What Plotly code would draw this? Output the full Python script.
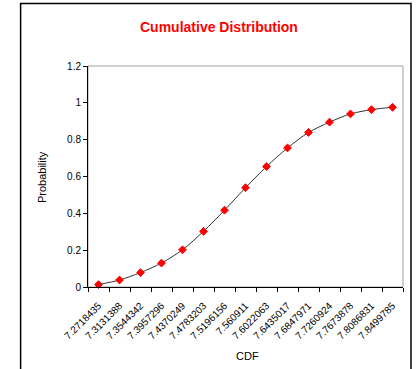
import plotly.graph_objects as go

categories = ["7.2718435", "7.3131388", "7.3544342", "7.3957296", "7.4370249",
              "7.4783203", "7.5196156", "7.560911", "7.6022063", "7.6435017",
              "7.6847971", "7.7260924", "7.7673878", "7.8086831", "7.8499785"]
probability = [0.013, 0.038, 0.078, 0.130, 0.202, 0.302, 0.417, 0.539,
               0.654, 0.755, 0.839, 0.895, 0.940, 0.963, 0.976]
y_ticks = [0, 0.2, 0.4, 0.6, 0.8, 1, 1.2]
y_tick_labels = ["0", "0.2", "0.4", "0.6", "0.8", "1", "1.2"]

W, H = 418, 369
L, R, T, B = 88, 403.5, 66, 287
pw, ph = R - L, B - T

def px(x):
    return (x - L) / pw

def py(y):
    return (B - y) / ph

font = "Liberation Sans, Arial, sans-serif"

fig = go.Figure()
fig.add_trace(go.Scatter(
    x=categories, y=probability, mode="lines+markers",
    line=dict(color="#333333", width=1, shape="spline", smoothing=0.8),
    marker=dict(symbol="diamond", size=6, color="#ff0000",
                line=dict(color="#ff0000", width=1)),
    showlegend=False, cliponaxis=False,
))

fig.update_layout(
    width=W, height=H,
    margin=dict(l=L, r=W - R, t=T, b=H - B, pad=0),
    paper_bgcolor="white", plot_bgcolor="white",
    font=dict(family=font, size=10, color="black"),
    xaxis=dict(
        type="category", range=[-0.5, 14.5], tickson="boundaries",
        ticks="outside", ticklen=4, tickcolor="black", tickwidth=1,
        showline=True, linecolor="black", linewidth=1,
        showgrid=False, zeroline=False, tickangle=-45,
        ticklabelstandoff=8,
        tickfont=dict(size=10, family=font, color="black"),
    ),
    yaxis=dict(
        range=[0, 1.2], tickvals=y_ticks, ticktext=y_tick_labels,
        ticks="outside", ticklen=4, tickcolor="black", tickwidth=1,
        showline=True, linecolor="black", linewidth=1,
        showgrid=False, zeroline=False,
        tickfont=dict(size=10, family=font, color="black"),
    ),
    shapes=[
        dict(type="rect", xref="paper", yref="paper",
             x0=px(20.5), x1=px(411.5), y0=py(375), y1=py(3.5),
             line=dict(color="black", width=1.5), layer="below"),
        dict(type="rect", xref="paper", yref="paper",
             x0=0, x1=1, y0=0, y1=1,
             line=dict(color="#a0a0a0", width=1), layer="below"),
    ],
    annotations=[
        dict(text="<b>Cumulative Distribution</b>", xref="paper", yref="paper",
             x=px(219), y=py(27.5), showarrow=False, xanchor="center", yanchor="middle",
             font=dict(size=14, color="#ff0000", family=font)),
        dict(text="Probability", xref="paper", yref="paper",
             x=px(42), y=py(177), showarrow=False, textangle=-90,
             xanchor="center", yanchor="middle",
             font=dict(size=11, color="black", family=font)),
        dict(text="CDF", xref="paper", yref="paper",
             x=px(248), y=py(356), showarrow=False,
             xanchor="center", yanchor="middle",
             font=dict(size=11, color="black", family=font)),
    ],
)

fig.write_html("out.html")
